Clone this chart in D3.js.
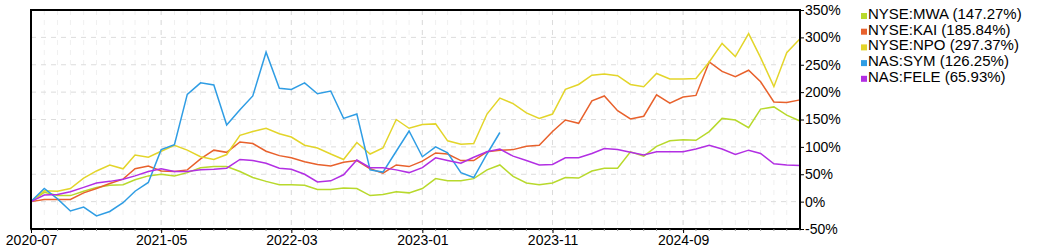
<!DOCTYPE html>
<html>
<head>
<meta charset="utf-8">
<script src="https://cdn.jsdelivr.net/npm/d3@7"></script>
<style>
  body { margin: 0; background: #fff; }
  svg { display: block; font-family: "Liberation Sans", Arial, sans-serif; }
</style>
</head>
<body>
<svg id="chart"></svg>
<script>
// monthly points, 2020-07 .. 2025-06 (percent change)
const startMonth = "2020-07"
const tickLabels = ["2020-07", "2021-05", "2022-03", "2023-01", "2023-11", "2024-09"]
const yTicks = [-50, 0, 50, 100, 150, 200, 250, 300, 350]

const mwa = [0,17,11,11,19,26,30,31,40,47, 50,47,53,62,64,64,55,44,37,31, 31,30,22,22,25,24,11,13,18,16,
  24,42,38,38,42,58,67,46,34,31, 34,44,43,56,61,61,91,83,101,111, 113,112,128,152,149,135,169,173,158,147.27]
const kai = [0,4,4,4,16,24,33,41,60,65, 56,55,58,78,94,90,109,106,92,84, 80,73,68,65,72,75,60,52,67,64,
  74,89,87,75,75,91,94,95,101,103, 128,149,143,184,193,166,151,156,195,180, 191,194,255,238,228,240,219,182,181,185.84]
const npo = [0,20,19,24,43,56,67,60,85,81, 92,103,94,82,77,86,121,128,134,124, 118,103,98,87,77,108,87,98,150,134,
  141,142,111,105,106,160,189,179,162,152, 160,205,214,231,233,230,214,210,234,224, 224,225,255,289,265,307,263,210,272,297.37]
const sym = [0,24,5,-17,-10,-26,-18,-2,19,35, 95,104,196,217,213,140,168,193,273,207, 205,217,197,202,152,160,58,54,92,129,
  82,100,89,53,44,87,126.25]
const fele = [0,12,13,18,26,34,37,41,47,55, 60,55,55,58,59,61,77,75,70,61, 59,50,36,38,49,76,62,62,58,53,
  62,80,75,70,81,91,96,83,75,67, 68,80,80,88,97,95,90,85,91,91, 91,96,103,96,86,94,88,69,67,65.93]

const seriesNames = ["NYSE:MWA", "NYSE:KAI", "NYSE:NPO", "NAS:SYM", "NAS:FELE"]
const seriesValues = [mwa, kai, npo, sym, fele]
const seriesColors = ["#b8d92c", "#e8612c", "#e3d52a", "#2f9de4", "#b22fe3"]

const width = 1050, height = 250
const margin = { top: 10, right: 250, bottom: 21, left: 31 }

const svg = d3.select("#chart").attr("width", width).attr("height", height)

const parseMonth = d3.utcParse("%Y-%m")
const t0 = parseMonth(startMonth)
const monthDate = i => d3.utcMonth.offset(t0, i)

const x = d3.scaleUtc()
  .domain([t0, monthDate(59)])
  .range([margin.left, width - margin.right])
const y = d3.scaleLinear()
  .domain([-50, 350])
  .range([height - margin.bottom, margin.top])

const allMonths = d3.range(60).map(monthDate)
const majorMonths = tickLabels.map(parseMonth)

// grid
const grid = svg.append("g")
grid.selectAll(".vminor")
  .data(allMonths)
  .join("line")
  .attr("x1", d => x(d)).attr("x2", d => x(d))
  .attr("y1", margin.top).attr("y2", height - margin.bottom)
  .attr("stroke", "#f0f0f0").attr("stroke-dasharray", "5,5")
grid.selectAll(".vmajor")
  .data(majorMonths)
  .join("line")
  .attr("x1", d => x(d)).attr("x2", d => x(d))
  .attr("y1", margin.top).attr("y2", height - margin.bottom)
  .attr("stroke", "#dcdcdc").attr("stroke-dasharray", "5,5")
grid.selectAll(".hgrid")
  .data(yTicks)
  .join("line")
  .attr("x1", margin.left).attr("x2", width - margin.right)
  .attr("y1", d => y(d)).attr("y2", d => y(d))
  .attr("stroke", "#dcdcdc").attr("stroke-dasharray", "5,5")

// lines
const line = d3.line()
  .x((d, i) => x(monthDate(i)))
  .y(d => y(d))

svg.append("g")
  .selectAll("path")
  .data(seriesValues)
  .join("path")
  .attr("fill", "none")
  .attr("stroke", (d, i) => seriesColors[i])
  .attr("stroke-width", 1.5)
  .attr("d", line)

// frame
svg.append("rect")
  .attr("x", margin.left).attr("y", margin.top)
  .attr("width", width - margin.right - margin.left)
  .attr("height", height - margin.bottom - margin.top)
  .attr("fill", "none").attr("stroke", "#000").attr("stroke-width", 2)

// minor month ticks on bottom axis
svg.append("g")
  .selectAll("line")
  .data(allMonths)
  .join("line")
  .attr("x1", d => x(d)).attr("x2", d => x(d))
  .attr("y1", height - margin.bottom).attr("y2", height - margin.bottom + 2)
  .attr("stroke", "#999")

// bottom axis
const xAxis = svg.append("g")
  .attr("transform", `translate(0,${height - margin.bottom})`)
  .call(d3.axisBottom(x).tickValues(majorMonths).tickFormat(d3.utcFormat("%Y-%m")).tickSize(4).tickPadding(2))
xAxis.select(".domain").remove()
xAxis.selectAll("text").attr("fill", "#000").style("font-size", "14px")

// right axis
const yAxis = svg.append("g")
  .attr("transform", `translate(${width - margin.right},0)`)
  .call(d3.axisRight(y).tickValues(yTicks).tickFormat(d => d + "%").tickSize(4).tickPadding(1))
yAxis.select(".domain").remove()
yAxis.selectAll("text").attr("fill", "#000").style("font-size", "14px")

// legend
const lastVals = seriesValues.map(v => v[v.length - 1])
const legend = svg.append("g")
  .attr("transform", "translate(861,13)")
  .selectAll("g")
  .data(seriesNames)
  .join("g")
  .attr("transform", (d, i) => `translate(0,${i * 15.7})`)
legend.append("rect")
  .attr("x", 0).attr("y", 0)
  .attr("width", 6).attr("height", 6)
  .attr("fill", (d, i) => seriesColors[i])
legend.append("text")
  .attr("x", 7).attr("y", 6)
  .style("font-size", "15px")
  .text((d, i) => `${d} (${lastVals[i].toFixed(2)}%)`)
</script>
</body>
</html>
